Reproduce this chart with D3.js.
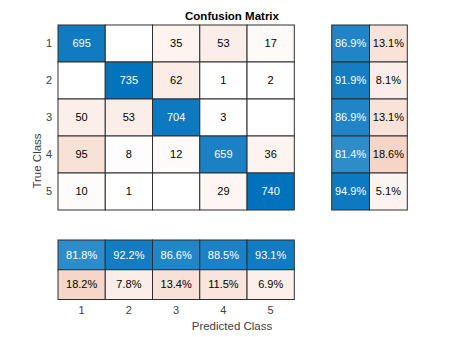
<!DOCTYPE html>
<html><head><meta charset="utf-8">
<script src="https://cdn.jsdelivr.net/npm/d3@7"></script>
<style>body{margin:0;background:#fff;} text{font-family:"Liberation Sans",Arial,sans-serif;}</style>
</head><body><svg id="c" width="450" height="337"></svg>
<script>
const classes = ["1","2","3","4","5"];
const counts = [
  [695, 0, 35, 53, 17],
  [0, 735, 62, 1, 2],
  [50, 53, 704, 3, 0],
  [95, 8, 12, 659, 36],
  [10, 1, 0, 29, 740]
];
const rowCorrect = [86.9, 91.9, 86.9, 81.4, 94.9];
const rowWrong = [13.1, 8.1, 13.1, 18.6, 5.1];
const colCorrect = [81.8, 92.2, 86.6, 88.5, 93.1];
const colWrong = [18.2, 7.8, 13.4, 11.5, 6.9];
const titleText = "Confusion Matrix";
const xLabel = "Predicted Class";
const yLabel = "True Class";

const svg = d3.select("#c");
const blue = d3.rgb(0,114,189), red = d3.rgb(217,83,25), white = d3.rgb(255,255,255);
const maxCount = d3.max(counts.flat());
const blueScale = d3.scaleLinear().domain([0,1]).range([white, blue]).interpolate(d3.interpolateRgb);
const redScale = d3.scaleLinear().domain([0,1]).range([white, red]).interpolate(d3.interpolateRgb).clamp(true);

const x = d3.scaleBand().domain(classes).range([58, 294.3]);
const y = d3.scaleBand().domain(classes).range([25, 210]);
const xr = d3.scaleBand().domain(["c","w"]).range([331.7, 407.3]);
const yb = d3.scaleBand().domain(["c","w"]).range([240, 299.5]);

const stroke = "#2e2e2e";
function cell(g, x0, y0, w, h, fill, txt, light) {
  g.append("rect").attr("x", x0).attr("y", y0).attr("width", w).attr("height", h)
    .attr("fill", fill).attr("stroke", stroke).attr("stroke-width", 1);
  if (txt !== "") g.append("text").attr("x", x0 + w/2).attr("y", y0 + h/2).attr("dy", "0.35em")
    .attr("text-anchor", "middle").attr("font-size", 11).attr("fill", light ? "#ffffff" : "#000000").text(txt);
}

const gm = svg.append("g");
counts.forEach((row, i) => row.forEach((v, j) => {
  const diag = i === j;
  let fill;
  if (v === 0) fill = "#ffffff";
  else if (diag) fill = blueScale(v / maxCount);
  else fill = redScale(v / maxCount * 1.35);
  cell(gm, x(classes[j]), y(classes[i]), x.bandwidth(), y.bandwidth(), fill, v === 0 ? "" : String(v), diag);
}));

const gr = svg.append("g");
classes.forEach((c, i) => {
  cell(gr, xr("c"), y(c), xr.bandwidth(), y.bandwidth(), blueScale(rowCorrect[i]/100), rowCorrect[i].toFixed(1) + "%", true);
  cell(gr, xr("w"), y(c), xr.bandwidth(), y.bandwidth(), redScale(rowWrong[i]/100*1.3), rowWrong[i].toFixed(1) + "%", false);
});
const gb = svg.append("g");
classes.forEach((c, j) => {
  cell(gb, x(c), yb("c"), x.bandwidth(), yb.bandwidth(), blueScale(colCorrect[j]/100), colCorrect[j].toFixed(1) + "%", true);
  cell(gb, x(c), yb("w"), x.bandwidth(), yb.bandwidth(), redScale(colWrong[j]/100*1.3), colWrong[j].toFixed(1) + "%", false);
});

// axes
const xAxis = d3.axisBottom(x).tickSize(0).tickPadding(0);
const gx = svg.append("g").attr("transform", "translate(0,306)").call(xAxis);
gx.select(".domain").remove();
gx.selectAll("text").attr("font-size", 11).attr("fill", "#404040").attr("font-family", "Liberation Sans, Arial, sans-serif");
const yAxis = d3.axisLeft(y).tickSize(0).tickPadding(6);
const gy = svg.append("g").attr("transform", "translate(58,0)").call(yAxis);
gy.select(".domain").remove();
gy.selectAll("text").attr("font-size", 11).attr("fill", "#404040").attr("font-family", "Liberation Sans, Arial, sans-serif");

svg.append("text").attr("x", 232).attr("y", 20).attr("text-anchor", "middle")
  .attr("font-size", 11.5).attr("font-weight", "bold").attr("fill", "#000").text(titleText);
svg.append("text").attr("x", 232).attr("y", 330).attr("text-anchor", "middle")
  .attr("font-size", 11.5).attr("fill", "#404040").text(xLabel);
svg.append("text").attr("transform", "translate(41,161) rotate(-90)").attr("text-anchor", "middle")
  .attr("font-size", 11.5).attr("fill", "#404040").text(yLabel);
</script></body></html>
